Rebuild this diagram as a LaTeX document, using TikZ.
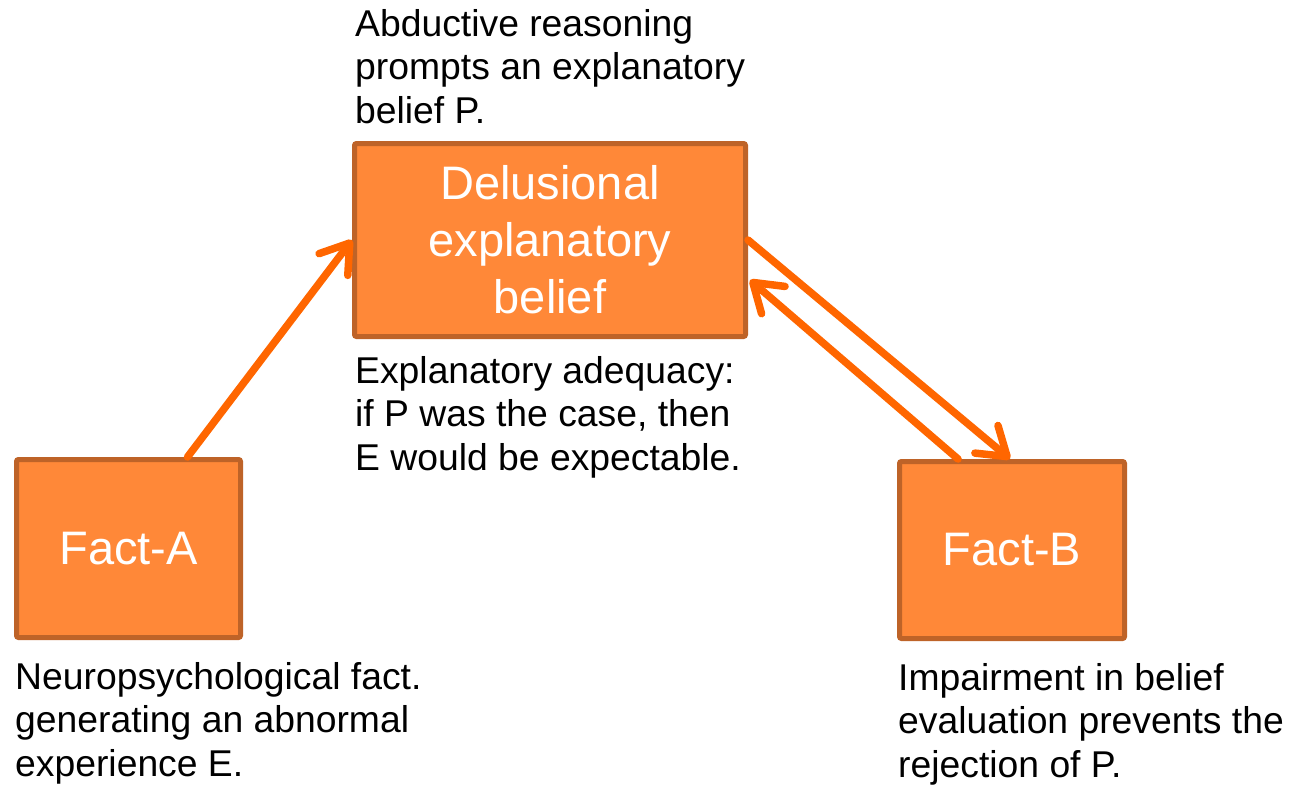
\documentclass[tikz,border=0pt]{standalone}
\usepackage{fontspec}
\setmainfont{Liberation Sans}
\usetikzlibrary{arrows.meta,calc}
\definecolor{boxfill}{HTML}{FF8838}
\definecolor{boxline}{HTML}{BE6328}
\definecolor{arrowc}{HTML}{FF6600}
\begin{document}
\begin{tikzpicture}[x=1pt,y=-1pt,
  factbox/.style={draw=boxline, fill=boxfill, line width=5pt, rounded corners=2pt,
    text=white, align=center, inner sep=0pt,
    font=\fontsize{47}{57}\selectfont},
  note/.style={anchor=north west, align=left, inner sep=0pt,
    font=\fontsize{37.3}{43.5}\selectfont},
  link/.style={draw=arrowc, line width=7.5pt, line cap=round,
    -{Straight Barb[length=27pt, width=36pt, line width=7.5pt, line cap=round, line join=round]}}
]
\useasboundingbox (0,0) rectangle (1289,785);

% boxes
\node[factbox, minimum width=391pt, minimum height=193pt] (main) at (550,240)
  {Delusional\\explanatory\\belief};
\node[factbox, minimum width=224pt, minimum height=178pt] (facta) at (128.5,548.5) {Fact-A};
\node[factbox, minimum width=225pt, minimum height=177pt] (factb) at (1012,550) {Fact-B};

% annotations
\node[note] (abd) at (355,9) {Abductive reasoning\\prompts an explanatory\\belief P.};
\node[note] (adeq) at (355,356) {Explanatory adequacy:\\if P was the case, then\\E would be expectable.};
\node[note] (neuro) at (15,662) {Neuropsychological fact.\\generating an abnormal\\experience E.};
\node[note] (impair) at (898,663) {Impairment in belief\\evaluation prevents the\\rejection of P.};

% connectors
\draw[link] ($(facta.north)+(59,0)$) -- (main.west);
\draw[link] (main.east) -- ($(factb.north)+(-2,0)$);
\draw[link] ($(factb.north)+(-54,0)$) -- ($(main.east)+(2,40)$);
\end{tikzpicture}
\end{document}
